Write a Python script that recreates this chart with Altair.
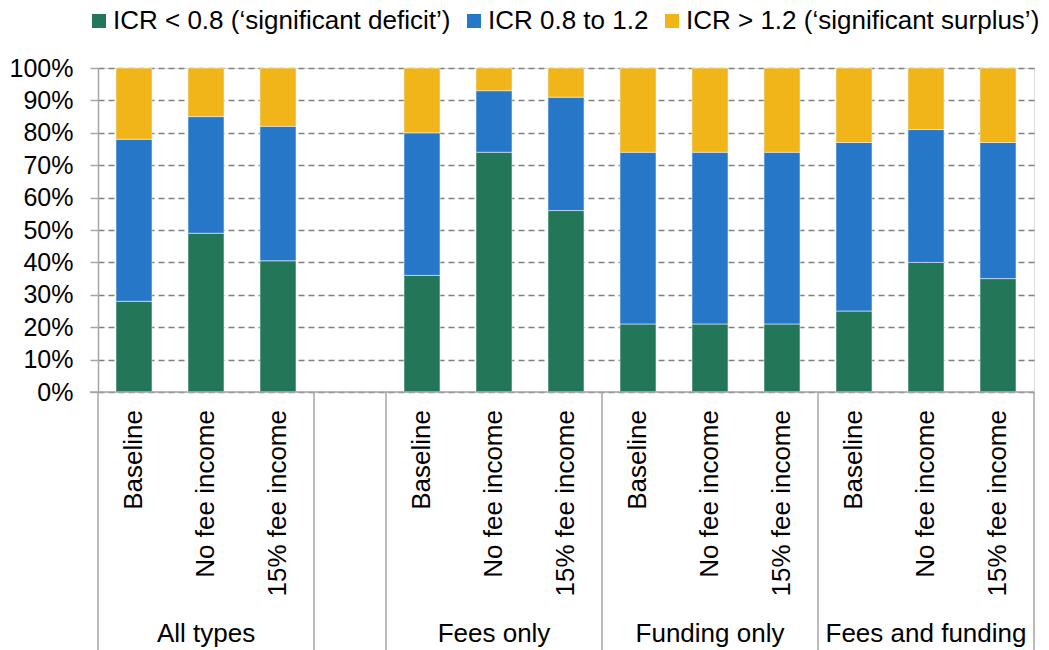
import altair as alt
import pandas as pd

groups = ["All types", "Fees only", "Funding only", "Fees and funding"]
scenarios = ["Baseline", "No fee income", "15% fee income"]
series = ["ICR < 0.8 (‘significant deficit’)", "ICR 0.8 to 1.2", "ICR > 1.2 (‘significant surplus’)"]
colors = ["#237657", "#2677C8", "#F1B519"]

# shares (%) per bar, in order All types, Fees only, Funding only, Fees and funding x scenarios
deficit = [28, 49, 40.5, 36, 74, 56, 21, 21, 21, 25, 40, 35]
balanced = [50, 36, 41.5, 44, 19, 35, 53, 53, 53, 52, 41, 42]
surplus = [22, 15, 18, 20, 7, 9, 26, 26, 26, 23, 19, 23]

rows = []
lab_rows = []
grp_rows = []
for gi, g in enumerate(groups):
    for si, s in enumerate(scenarios):
        i = gi * 3 + si
        slot = gi * 3 + si + (1 if gi > 0 else 0)
        for k, (name, vals) in enumerate(zip(series, [deficit, balanced, surplus])):
            rows.append({"slot": slot, "group": g, "scenario": s, "series": name, "k": k, "v": vals[i] / 100})
        lab_rows.append({"slot": slot, "scenario": s})
    grp_rows.append({"slot": gi * 3 + 1 + (1 if gi > 0 else 0), "group": g})

df = pd.DataFrame(rows)
labs = pd.DataFrame(lab_rows)
grps = pd.DataFrame(grp_rows)
bounds = pd.DataFrame({"b": [0, 3, 4, 7, 10, 13]})

W, H = 936, 324
xs = alt.Scale(domain=[0, 13], nice=False, zero=False)
ys = alt.Scale(domain=[0, 1], nice=False)
FONT = "Liberation Sans"

bars = alt.Chart(df).transform_window(
    cum="sum(v)", groupby=["slot"], sort=[alt.SortField("k", order="ascending")],
    frame=[None, 0]
).transform_calculate(
    x0="datum.slot + 0.25", x1="datum.slot + 0.75", y0="datum.cum - datum.v"
).mark_bar(stroke="#e8eef5", strokeWidth=0.6).encode(
    x=alt.X("x0:Q", scale=xs, axis=None),
    x2="x1:Q",
    y=alt.Y("y0:Q", scale=ys,
            axis=alt.Axis(format=".0%", values=[i / 10 for i in range(11)],
                          title=None, grid=True, gridDash=[6, 4], gridColor="#808080",
                          gridWidth=1.3, domainColor="#a6a6a6", domainWidth=1.5,
                          tickColor="#a6a6a6", tickSize=8, tickWidth=1.5,
                          labelFontSize=25, labelFont=FONT, labelColor="#000",
                          labelPadding=17)),
    y2="cum:Q",
    color=alt.Color("series:N", scale=alt.Scale(domain=series, range=colors),
                    legend=alt.Legend(orient="none", legendX=-12, legendY=-60,
                                      direction="horizontal", columns=3, title=None,
                                      symbolType="square", symbolSize=196,
                                      symbolStrokeWidth=0, labelFontSize=26,
                                      labelFont=FONT, labelColor="#000",
                                      labelOffset=1, columnPadding=10, padding=0,
                                      labelLimit=800)),
)

base_axis = alt.Chart(pd.DataFrame({"a": [0]})).mark_rule(
    color="#a6a6a6", strokeWidth=1.5
).encode(x=alt.value(-8), x2=alt.value(W), y=alt.value(H))

seps = alt.Chart(bounds).mark_rule(color="#a6a6a6", strokeWidth=1.5).encode(
    x=alt.X("b:Q", scale=xs, axis=None),
    y=alt.value(H), y2=alt.value(H + 258),
)

scen = alt.Chart(labs).transform_calculate(xc="datum.slot + 0.5").mark_text(
    angle=270, align="right", baseline="middle", fontSize=26, font=FONT, color="#000"
).encode(
    x=alt.X("xc:Q", scale=xs, axis=None),
    y=alt.value(H + 18),
    text="scenario:N",
)

grp = alt.Chart(grps).transform_calculate(xc="datum.slot + 0.5").mark_text(
    align="center", baseline="middle", fontSize=26, font=FONT, color="#000"
).encode(
    x=alt.X("xc:Q", scale=xs, axis=None),
    y=alt.value(H + 242),
    text="group:N",
)

chart = alt.layer(bars, base_axis, seps, scen, grp).properties(
    width=W, height=H,
    autosize=alt.AutoSizeParams(type="none"),
    padding={"left": 90, "top": 60, "right": 7, "bottom": 258},
).configure_view(stroke=None).configure(font=FONT)

chart.save("out.html", embed_options={"renderer": "svg", "actions": False})
